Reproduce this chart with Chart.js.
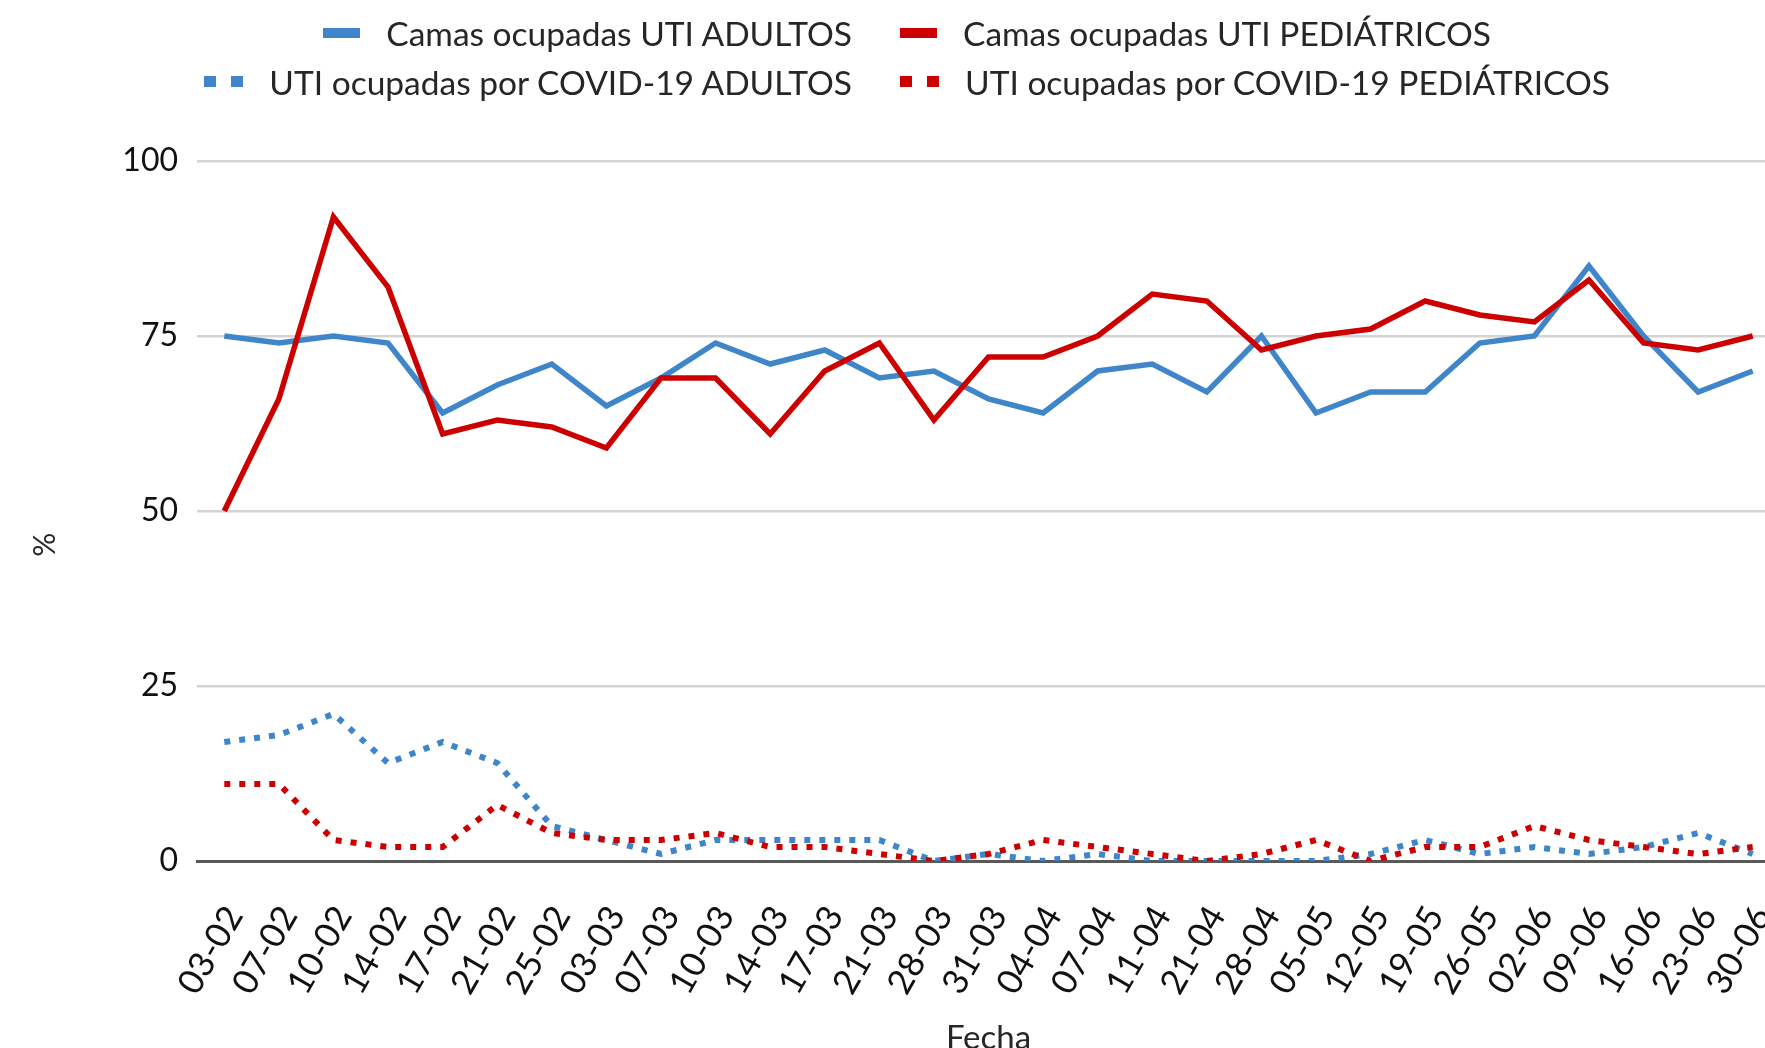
<!DOCTYPE html>
<html lang="es">
<head>
<meta charset="utf-8">
<title>Ocupación de camas UTI</title>
<script src="https://cdn.jsdelivr.net/npm/chart.js@4/dist/chart.umd.min.js"></script>
<style>
    html, body { margin: 0; padding: 0; background: #fff; overflow: hidden; }
    #wrap { position: relative; width: 1810px; height: 1070px; }
    #chartJSContainer { position: absolute; left: 0; top: 0; }
    .item {
        position: absolute;
        height: 49px;
        display: flex;
        align-items: center;
        white-space: nowrap;
        font-family: Lato, "Open Sans", sans-serif;
        font-size: 33.5px;
        color: #262626;
    }
    .swatch { margin-right: 26px; }
</style>
</head>
<body>
<div id="wrap">
    <canvas id="chartJSContainer" width="1810" height="1070"></canvas>
    <div id="legend"></div>
</div>
<script>

var fechas = ['03-02', '07-02', '10-02', '14-02', '17-02', '21-02', '25-02', '03-03', '07-03', '10-03',
              '14-03', '17-03', '21-03', '28-03', '31-03', '04-04', '07-04', '11-04', '21-04', '28-04',
              '05-05', '12-05', '19-05', '26-05', '02-06', '09-06', '16-06', '23-06', '30-06'];

var camasAdultos     = [75, 74, 75, 74, 64, 68, 71, 65, 69, 74, 71, 73, 69, 70, 66, 64, 70, 71, 67, 75, 64, 67, 67, 74, 75, 85, 75, 67, 70];
var camasPediatricos = [50, 66, 92, 82, 61, 63, 62, 59, 69, 69, 61, 70, 74, 63, 72, 72, 75, 81, 80, 73, 75, 76, 80, 78, 77, 83, 74, 73, 75];
var covidAdultos     = [17, 18, 21, 14, 17, 14, 5, 3, 1, 3, 3, 3, 3, 0, 1, 0, 1, 0, 0, 0, 0, 1, 3, 1, 2, 1, 2, 4, 1];
var covidPediatricos = [11, 11, 3, 2, 2, 8, 4, 3, 3, 4, 2, 2, 1, 0, 1, 3, 2, 1, 0, 1, 3, 0, 2, 2, 5, 3, 2, 1, 2];

var yTicks = [0, 25, 50, 75, 100];

var azul = '#3f85c9';
var rojo = '#cc0000';
var fuente = 'Lato, "Open Sans", sans-serif';

var datasets = [
    {
        label: 'Camas ocupadas UTI ADULTOS',
        data: camasAdultos,
        borderColor: azul,
        borderWidth: 5.5,
        pointRadius: 0,
        tension: 0,
        fill: false,
        order: 3
    },
    {
        label: 'Camas ocupadas UTI PEDIÁTRICOS',
        data: camasPediatricos,
        borderColor: rojo,
        borderWidth: 5.5,
        pointRadius: 0,
        tension: 0,
        fill: false,
        order: 2
    },
    {
        label: 'UTI ocupadas por COVID-19 ADULTOS',
        data: covidAdultos,
        borderColor: azul,
        borderWidth: 6,
        borderDash: [6, 9],
        borderCapStyle: 'butt',
        pointRadius: 0,
        tension: 0,
        fill: false,
        order: 1
    },
    {
        label: 'UTI ocupadas por COVID-19 PEDIÁTRICOS',
        data: covidPediatricos,
        borderColor: rojo,
        borderWidth: 6,
        borderDash: [6, 9],
        borderCapStyle: 'butt',
        pointRadius: 0,
        tension: 0,
        fill: false,
        order: 0
    }
];

// legend as html, two columns: left one ends at x=852, right one starts at x=900
var legend = document.getElementById('legend');
for (var i = 0; i < datasets.length; i++) {
    var ds = datasets[i];
    var item = document.createElement('div');
    item.className = 'item';
    item.style.top = (i < 2 ? 8 : 57) + 'px';
    if (i % 2 === 0)
        item.style.right = (1810 - 852) + 'px';
    else
        item.style.left = '900px';

    var sw = document.createElement('span');
    sw.className = 'swatch';
    sw.style.display = 'inline-block';
    if (ds.borderDash) {
        sw.style.width = '39px';
        sw.style.height = '11px';
        sw.style.background = 'linear-gradient(to right, ' + ds.borderColor + ' 0 12px, transparent 12px 27px, ' + ds.borderColor + ' 27px 39px)';
    } else {
        sw.style.width = '37px';
        sw.style.height = '10px';
        sw.style.background = ds.borderColor;
    }
    item.appendChild(sw);

    var txt = document.createElement('span');
    txt.textContent = ds.label;
    item.appendChild(txt);
    legend.appendChild(item);
}

var options = {
    type: 'line',
    data: {
        labels: fechas,
        datasets: datasets
    },
    options: {
        responsive: false,
        animation: false,
        devicePixelRatio: 1,
        layout: {
            padding: { top: 161, right: 30, bottom: 0, left: 0 }
        },
        plugins: {
            legend: { display: false },
            tooltip: { enabled: false }
        },
        scales: {
            x: {
                offset: true,
                grid: { display: false, drawTicks: false },
                border: { display: true, color: '#595959', width: 3 },
                ticks: {
                    autoSkip: false,
                    minRotation: 60,
                    maxRotation: 60,
                    padding: 38,
                    labelOffset: 10,
                    color: '#111',
                    font: { family: fuente, size: 35 }
                },
                title: {
                    display: true,
                    text: 'Fecha',
                    color: '#262626',
                    font: { family: fuente, size: 33 },
                    padding: { top: 0, bottom: 12 }
                },
                afterFit: function (scale) {
                    scale.height = 209;
                    // the plot runs off the right edge in the original, so no extra room for the last label
                    scale.paddingRight = 0;
                    scale.paddingLeft = 0;
                }
            },
            y: {
                min: 0,
                max: 100,
                afterBuildTicks: function (scale) {
                    scale.ticks = yTicks.map(function (v) { return { value: v }; });
                },
                grid: {
                    drawTicks: false,
                    color: function (c) { return c.tick && c.tick.value === 0 ? '#595959' : '#d4d4d4'; },
                    lineWidth: function (c) { return c.tick && c.tick.value === 0 ? 3 : 2.5; }
                },
                border: { display: false },
                ticks: {
                    padding: 19,
                    color: '#111',
                    font: { family: fuente, size: 32 }
                },
                title: {
                    display: true,
                    // trailing em spaces push the symbol a bit below the middle, as in the original
                    text: '%\u2003\u2003\u2003',
                    color: '#262626',
                    font: { family: fuente, size: 30 },
                    padding: { top: 27, bottom: 0 }
                },
                afterFit: function (scale) { scale.width = 197; }
            }
        }
    }
};

var ctx = document.getElementById('chartJSContainer').getContext('2d');
new Chart(ctx, options);
</script>
</body>
</html>
